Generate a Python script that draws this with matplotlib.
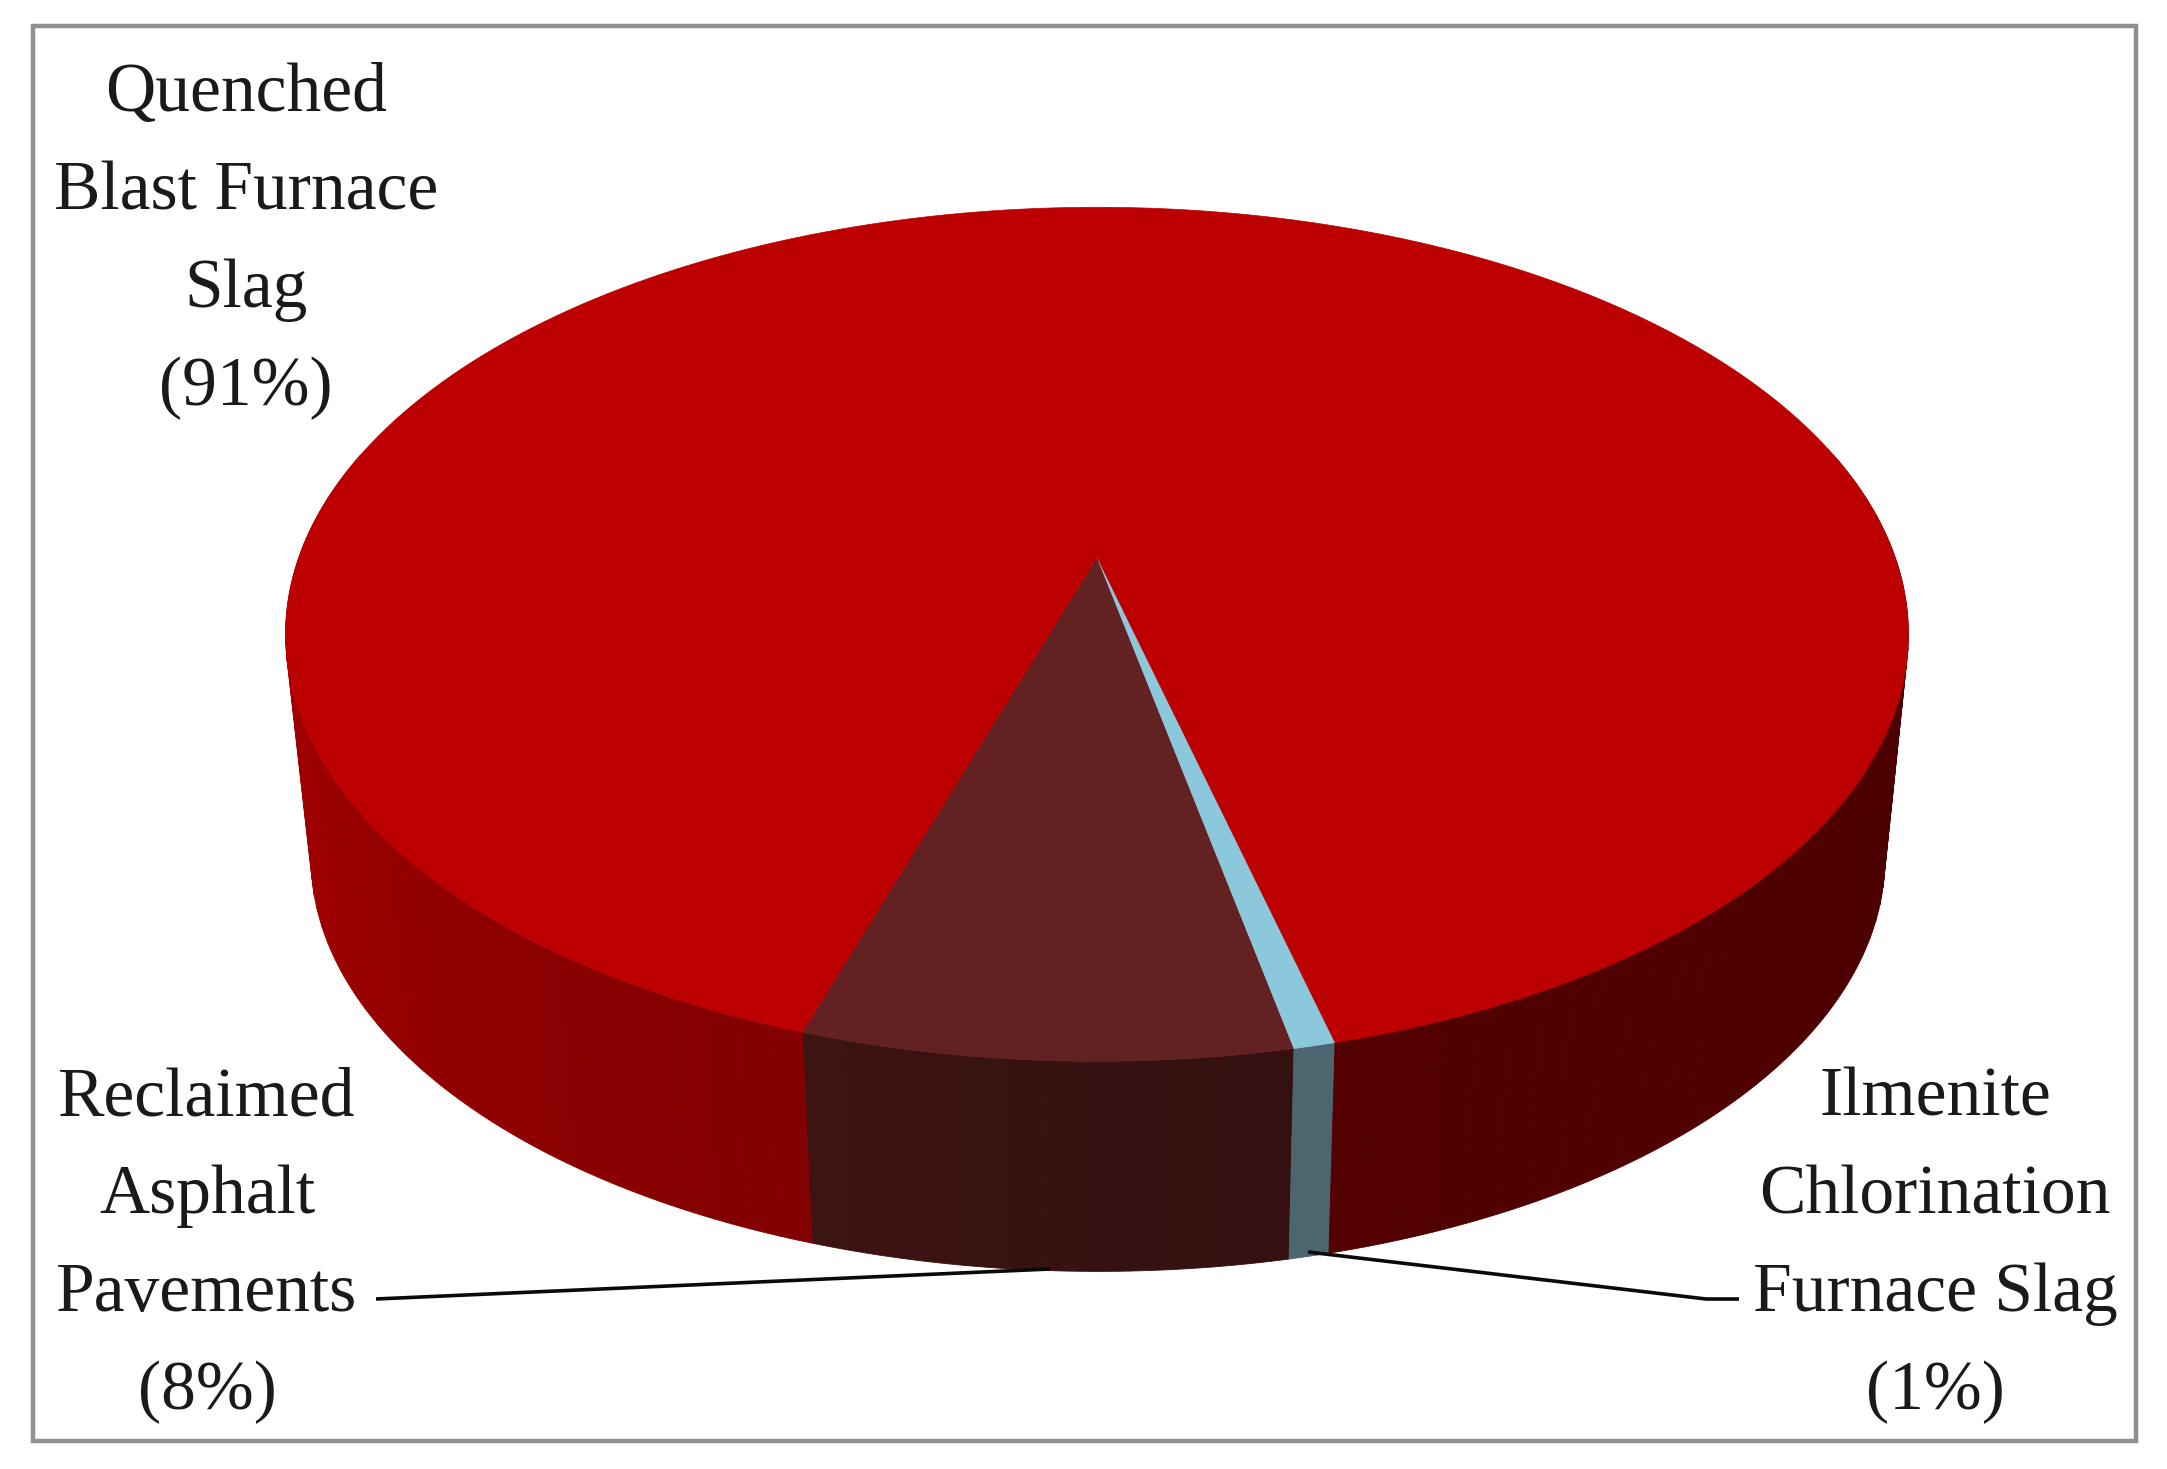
import matplotlib
matplotlib.use("Agg")
import matplotlib.pyplot as plt
from matplotlib.patches import Polygon, Rectangle
from matplotlib.colors import to_rgb
import numpy as np

# Datos de la grafica
names = ["Reclaimed Asphalt Pavements", "Ilmenite Chlorination Furnace Slag", "Quenched Blast Furnace Slag"]
shares = [8.2, 0.7, 91.1]
top_colors = ["#632222", "#8CC8DC", "#BC0000"]
side_colors = ["#3C1412", "#4C6670", "#4A0000"]

label_lines = [
    ["Reclaimed", "Asphalt", "Pavements", "(8%)"],
    ["Ilmenite", "Chlorination", "Furnace Slag", "(1%)"],
    ["Quenched", "Blast Furnace", "Slag", "(91%)"],
]

W, H = 2167, 1469
fig = plt.figure(figsize=(W / 100, H / 100), dpi=100)
ax = fig.add_axes([0, 0, 1, 1])
ax.set_xlim(0, W)
ax.set_ylim(H, 0)
ax.axis("off")


# Circulo visto en perspectiva; phi = 0 es el punto mas cercano
def project(phi, x0, y0, a, b, k=0.181):
    u = np.sin(np.radians(phi))
    v = np.cos(np.radians(phi))
    return np.column_stack([x0 + a * u / (1 - k * v), y0 + b * v / (1 - k * v)])


def top(phi):
    return project(phi, 1097, 557, 798, 413)


def bottom(phi):
    return project(phi, 1098, 783, 774, 400)


def strips(p0, p1, c0, c1, n=40):
    # Pared lateral en tiras para que la silueta quede bien
    steps = np.linspace(p0, p1, n + 1)
    c0, c1 = np.array(to_rgb(c0)), np.array(to_rgb(c1))
    for j in range(n):
        phis = np.linspace(steps[j], steps[j + 1], 5)
        c = c0 + (c1 - c0) * j / max(n - 1, 1)
        pts = np.vstack([top(phis), bottom(phis)[::-1]])
        ax.add_patch(Polygon(pts, fc=c, ec=c, lw=0.6))


start = -17.8
edges = start + np.concatenate([[0], np.cumsum(shares)]) * 3.6

ax.add_patch(Rectangle((33, 26), 2103, 1415, fc="white", ec="#909090", lw=3.2))

# Pared lateral
strips(edges[0], edges[1], side_colors[0], "#341010", 12)
strips(edges[1], edges[2], side_colors[1], side_colors[1], 3)
strips(edges[2], 105, "#520000", side_colors[2], 40)
strips(255, edges[3], "#B00000", "#820000", 40)

# Cara superior
apex = np.array([1097, 557])
for i in range(3):
    phis = np.linspace(edges[i], edges[i + 1], 400)
    pts = np.vstack([apex, top(phis)])
    ax.add_patch(Polygon(pts, fc=top_colors[i], ec=top_colors[i], lw=0.5))

# Lineas guia
ax.plot([376, 1050], [1299, 1269], color="#0A0A0A", lw=2.6, solid_capstyle="butt")
ax.plot([1739, 1706, 1308], [1299, 1299, 1252], color="#0A0A0A", lw=2.6, solid_capstyle="butt")

# Etiquetas
label_x = [207, 1935, 246]
first_base = [1115, 1115, 111]
for lines, x, y in zip(label_lines, label_x, first_base):
    for n, line in enumerate(lines):
        ax.text(x, y + n * 98, line, ha="center", va="baseline",
                family="Liberation Serif", fontsize=50, color="#1A1A1A")

fig.savefig("out.png", dpi=100, facecolor="white")
